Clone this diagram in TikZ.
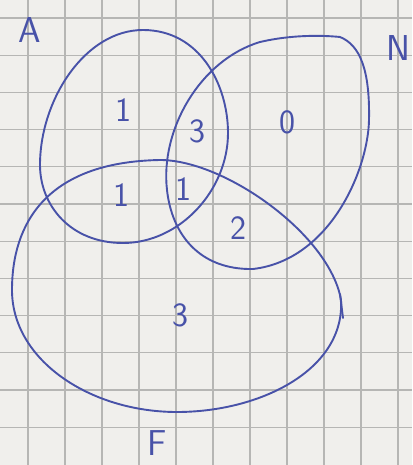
\documentclass[tikz,border=0pt]{standalone}
\definecolor{paper}{RGB}{240,239,236}
\definecolor{gridc}{RGB}{182,182,180}
\definecolor{ink}{RGB}{72,82,168}
\tikzset{
  setline/.style={draw=ink, line width=1.9pt, line join=round, line cap=round},
  lbl/.style={text=ink, font=\sffamily\fontsize{34}{36}\selectfont, inner sep=0pt},
  setname/.style={text=ink, font=\sffamily\fontsize{36}{38}\selectfont, inner sep=0pt},
}
\begin{document}
\begin{tikzpicture}[x=1pt,y=-1pt]
\useasboundingbox (0,0) rectangle (412,465);
\fill[paper] (0,0) rectangle (412,465);
% grid
\foreach \i in {0,...,10} \draw[gridc, line width=1.1pt] ({28+37*\i},0) -- ({28+37*\i},465);
\foreach \j in {0,...,11} \draw[gridc, line width=1.1pt] (0,{18+37.2*\j}) -- (412,{18+37.2*\j});
% set A
\draw[setline] (143,30) .. controls (200,30) and (228,85) .. (228,133)
  .. controls (228,190) and (180,243) .. (123,243)
  .. controls (70,243) and (40,205) .. (40,165)
  .. controls (40,100) and (85,30) .. (143,30) -- cycle;
% set N
\draw[setline] (167,190) .. controls (160,130) and (200,60) .. (260,42)
  .. controls (290,35) and (320,35) .. (340,37)
  .. controls (360,45) and (370,70) .. (369,120)
  .. controls (368,170) and (330,260) .. (253,269)
  .. controls (200,270) and (172,235) .. (167,190) -- cycle;
% set F
\draw[setline] (160,160) .. controls (225,160) and (330,235) .. (341,300)
  .. controls (345,370) and (260,412) .. (177,412)
  .. controls (90,412) and (12,360) .. (12,290)
  .. controls (12,225) and (45,162) .. (160,160) -- cycle;
\draw[setline] (340,294) -- (343,318);
% set names
\node[setname] (nA) at (30,30) {A};
\node[setname] (nN) at (398,48) {N};
\node[setname] (nF) at (157,443) {F};
% counts
\node[lbl] (a) at (123,110) {1};
\node[lbl] (an) at (197,131) {3};
\node[lbl] (n) at (287,122) {0};
\node[lbl] (af) at (121,195) {1};
\node[lbl] (anf) at (183,189) {1};
\node[lbl] (nf) at (238,228) {2};
\node[lbl] (f) at (180,315) {3};
\end{tikzpicture}
\end{document}
